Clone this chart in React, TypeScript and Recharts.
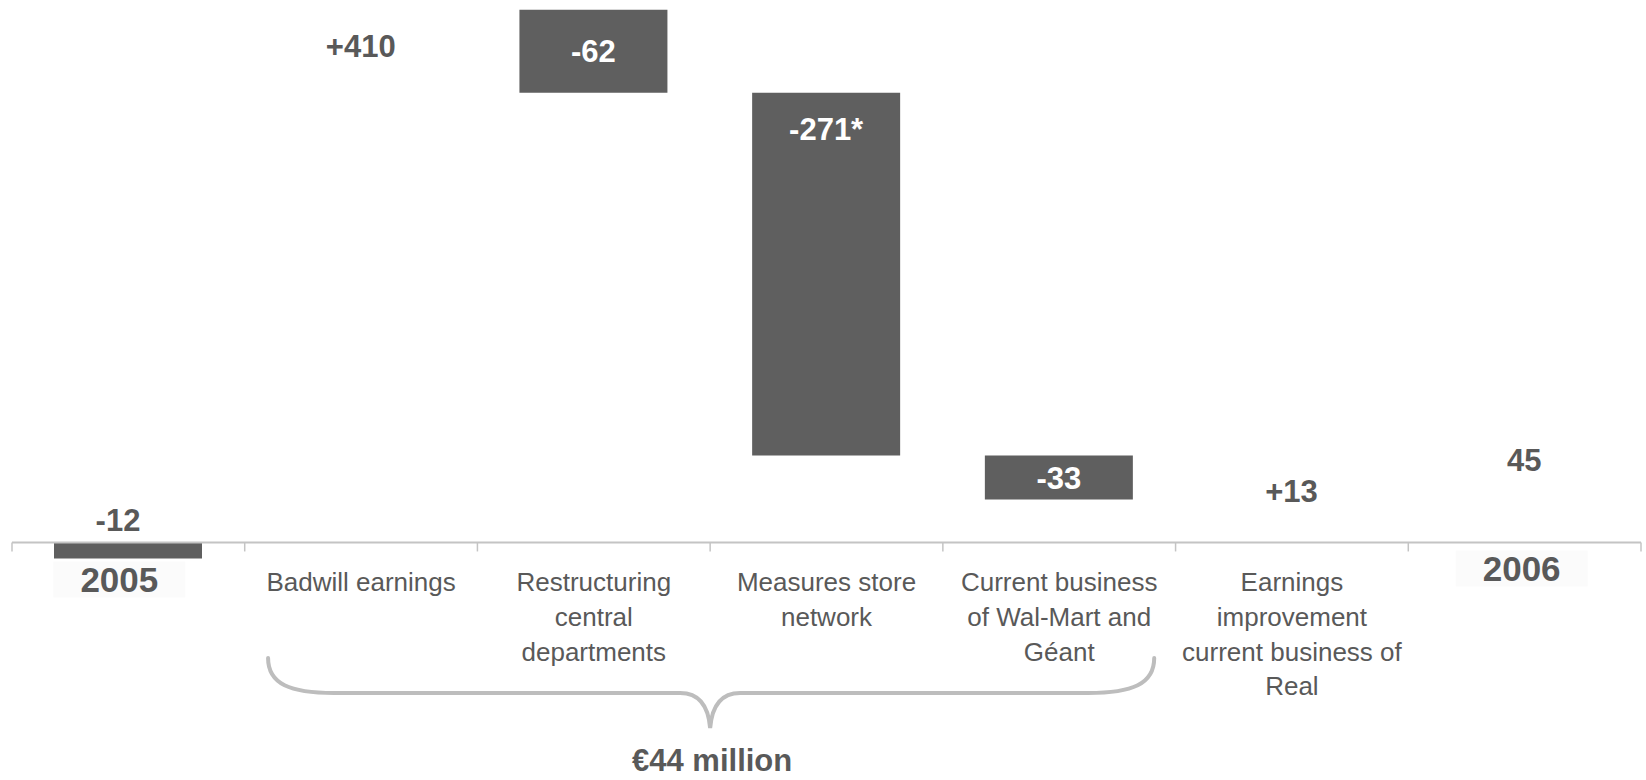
import React from 'react';
import { BarChart, Bar, XAxis, YAxis, ReferenceLine, Cell, LabelList } from 'recharts';

const categories = [
  '2005',
  'Badwill earnings',
  'Restructuring central departments',
  'Measures store network',
  'Current business of Wal-Mart and Géant',
  'Earnings improvement current business of Real',
  '2006',
];
const tickLines = [
  ['2005'],
  ['Badwill earnings'],
  ['Restructuring', 'central', 'departments'],
  ['Measures store', 'network'],
  ['Current business', 'of Wal-Mart and', 'Géant'],
  ['Earnings', 'improvement', 'current business of', 'Real'],
  ['2006'],
];
const startValue = -12;
const steps = [410, -62, -271, -33, 13];
const endValue = 45;
const valueLabels = ['-12', '+410', '-62', '-271*', '-33', '+13', '45'];

const W = 1646;
const H = 780;
const MARGIN = { top: 7, right: 5, left: 12, bottom: 34 };
const X_AXIS_H = 150;
const Y_MIN = -40;
const Y_MAX = 400;
const plotH = H - MARGIN.top - MARGIN.bottom - X_AXIS_H;
const plotW = W - MARGIN.left - MARGIN.right;
const band = plotW / categories.length;
const zeroY = MARGIN.top + (plotH * Y_MAX) / (Y_MAX - Y_MIN);

const DARK = '#5f5f5f';
const TEXT = '#595959';
const FONT = '"Liberation Sans", Arial, sans-serif';

// waterfall: each bar is a [low, high] range
const data = (() => {
  const rows: any[] = [];
  rows.push({ name: categories[0], range: [Math.min(0, startValue), Math.max(0, startValue)], delta: startValue, label: valueLabels[0] });
  let level = startValue;
  steps.forEach((s, i) => {
    const next = level + s;
    rows.push({ name: categories[i + 1], range: [Math.min(level, next), Math.max(level, next)], delta: s, label: valueLabels[i + 1] });
    level = next;
  });
  rows.push({ name: categories[categories.length - 1], range: [Math.min(0, endValue), Math.max(0, endValue)], delta: endValue, label: valueLabels[valueLabels.length - 1] });
  return rows;
})();

const last = categories.length - 1;

const ValueLabel = (props: any) => {
  const { x, y, width, height, index, value } = props;
  const top = Math.min(y, y + height);
  const bottom = Math.max(y, y + height);
  const h = bottom - top;
  const isTotal = index === 0 || index === last;
  let cy;
  if (isTotal) cy = top - 22;
  else if (h > 200) cy = top + 36;
  else cy = (top + bottom) / 2;
  const inside = !isTotal && data[index].delta < 0;
  const cx = x + width / 2 + (index === 0 ? -10 : 0);
  return (
    <text x={cx} y={cy + 11} textAnchor="middle" fontFamily={FONT} fontSize={31} fontWeight="bold" fill={inside ? '#ffffff' : TEXT}>
      {value}
    </text>
  );
};

const CategoryTick = (props: any) => {
  const { x, payload } = props;
  const i = categories.indexOf(payload.value);
  const lines = tickLines[i] || [payload.value];
  const isTotal = i === 0 || i === last;
  const left = x - band / 2;
  const right = x + band / 2;
  return (
    <g>
      <line x1={left} x2={left} y1={zeroY} y2={zeroY + 9} stroke="#c4c4c4" strokeWidth={1.5} />
      {i === last && <line x1={right} x2={right} y1={zeroY} y2={zeroY + 9} stroke="#c4c4c4" strokeWidth={1.5} />}
      {isTotal ? (
        (() => {
          const base = zeroY + (i === 0 ? 50 : 39);
          const cx = x + (i === 0 ? -9 : -3);
          return (
            <g>
              <rect x={cx - 66} y={base - 31} width={132} height={36} fill="#fbfbfb" />
              <text x={cx} y={base} textAnchor="middle" fontFamily={FONT} fontSize={35} fontWeight="bold" fill={TEXT}>
                {lines[0]}
              </text>
            </g>
          );
        })()
      ) : (
        <text x={x} y={zeroY + 49} textAnchor="middle" fontFamily={FONT} fontSize={26} fill={TEXT}>
          {lines.map((l, k) => (
            <tspan key={k} x={x} dy={k === 0 ? 0 : 34.6}>
              {l}
            </tspan>
          ))}
        </text>
      )}
    </g>
  );
};

const Brace = () => {
  const L = MARGIN.left + band * 1.5 - 93;
  const R = MARGIN.left + band * 4.5 + 95;
  const T = MARGIN.left + band * 3;
  const d = `M ${L} 658 C ${L} 684, ${L + 22} 693, ${L + 66} 693 L ${T - 30} 693 C ${T - 12} 693, ${T - 2} 704, ${T} 728 C ${T + 2} 704, ${T + 12} 693, ${T + 30} 693 L ${R - 66} 693 C ${R - 22} 693, ${R} 684, ${R} 658`;
  return (
    <svg width={W} height={H} style={{ position: 'absolute', left: 0, top: 0, pointerEvents: 'none' }}>
      <path d={d} fill="none" stroke="#bdbdbd" strokeWidth={4} strokeLinecap="round" />
      <text x={T + 2} y={771} textAnchor="middle" fontFamily={FONT} fontSize={31} fontWeight="bold" fill={TEXT}>
        €44 million
      </text>
    </svg>
  );
};

const App = () => {
  return (
    <div style={{ position: 'absolute', left: 0, top: 0, width: W, height: H, background: '#ffffff' }}>
      <BarChart width={W} height={H} data={data} margin={MARGIN} barSize={148}>
        <XAxis dataKey="name" height={X_AXIS_H} axisLine={false} tickLine={false} interval={0} tick={<CategoryTick />} />
        <YAxis hide type="number" domain={[Y_MIN, Y_MAX]} allowDataOverflow />
        <Bar dataKey="range" isAnimationActive={false}>
          {data.map((d, i) => (
            <Cell key={i} fill={d.delta < 0 ? DARK : '#ffffff'} />
          ))}
          <LabelList dataKey="label" content={<ValueLabel />} />
        </Bar>
        <ReferenceLine y={0} stroke="#c4c4c4" strokeWidth={2} />
      </BarChart>
      <Brace />
    </div>
  );
};

export default App;
